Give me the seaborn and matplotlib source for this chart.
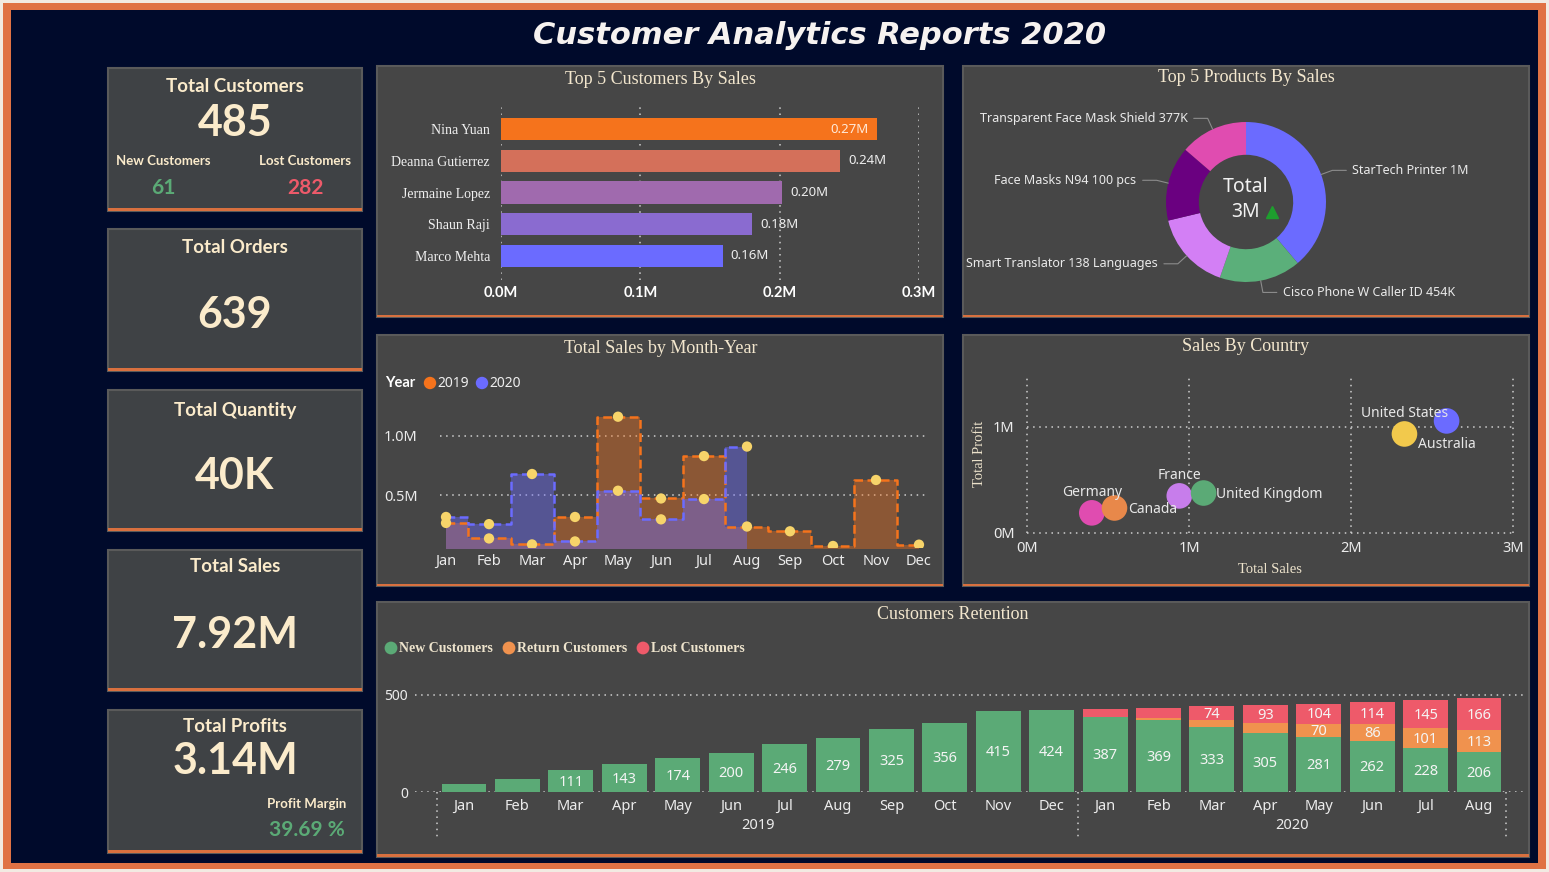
import numpy as np
import pandas as pd
import matplotlib
matplotlib.use("Agg")
import matplotlib.pyplot as plt
import matplotlib.transforms as mtransforms
from matplotlib.patches import Rectangle
from matplotlib.ticker import FuncFormatter
import seaborn as sns

# ---------------- data ----------------
kpi_titles = ["Total Customers", "Total Orders", "Total Quantity", "Total Sales", "Total Profits"]
kpi_values = ["485", "639", "40K", "7.92M", "3.14M"]
kpi_new_customers = "61"
kpi_lost_customers = "282"
kpi_profit_margin = "39.69 %"

top_customers = ["Nina Yuan", "Deanna Gutierrez", "Jermaine Lopez", "Shaun Raji", "Marco Mehta"]
top_customer_sales = [270000, 243000, 202000, 180000, 159000]
top_customer_labels = ["0.27M", "0.24M", "0.20M", "0.18M", "0.16M"]

products = ["StarTech Printer", "Cisco Phone W Caller ID", "Smart Translator 138 Languages",
            "Face Masks N94 100 pcs", "Transparent Face Mask Shield"]
product_sales = [1070000, 454000, 440000, 415000, 377000]
product_labels = ["StarTech Printer 1M", "Cisco Phone W Caller ID 454K", "Smart Translator 138 Languages",
                  "Face Masks N94 100 pcs", "Transparent Face Mask Shield 377K"]
product_total_label = "3M"

months = ["Jan", "Feb", "Mar", "Apr", "May", "Jun", "Jul", "Aug", "Sep", "Oct", "Nov", "Dec"]
sales_2019 = [270000, 140000, 90000, 320000, 1160000, 475000, 830000, 240000, 200000, 77000, 630000, 88000]
sales_2020 = [320000, 260000, 680000, 115000, 540000, 300000, 470000, 910000]

countries = ["Germany", "Canada", "France", "United Kingdom", "United States", "Australia"]
country_sales = [400000, 540000, 940000, 1090000, 2330000, 2590000]
country_profit = [190000, 236000, 350000, 377000, 934000, 1057000]

ret_months = months + months[:8]
ret_years = ["2019"] * 12 + ["2020"] * 8
ret_new = [41, 67, 111, 143, 174, 200, 246, 279, 325, 356, 415, 424, 387, 369, 333, 305, 281, 262, 228, 206]
ret_return = [0] * 12 + [0, 12, 36, 48, 70, 86, 101, 113]
ret_lost = [0] * 12 + [41, 52, 74, 93, 104, 114, 145, 166]

# ---------------- style ----------------
NAVY = "#000A2B"
PANEL = "#464646"
CARD = "#3F4245"
ORANGE_LINE = "#D8703F"
CREAM = "#FBEBCB"
TITLE_C = "#F3E7CE"
TICK_C = "#ECECEC"
SERIF = ["Liberation Serif", "DejaVu Serif"]
SANS = ["Noto Sans", "DejaVu Sans"]
BOLD = ["Lato", "DejaVu Sans"]

sns.set_theme(style="white")
plt.rcParams["font.family"] = SANS
plt.rcParams["text.color"] = TICK_C
plt.rcParams["axes.labelcolor"] = TICK_C
plt.rcParams["xtick.color"] = TICK_C
plt.rcParams["ytick.color"] = TICK_C

W, H = 1549, 872
fig = plt.figure(figsize=(W / 100, H / 100), dpi=100)
fig.patch.set_facecolor(NAVY)


def axpx(x0, y0, x1, y1, z=1):
    a = fig.add_axes([x0 / W, 1 - y1 / H, (x1 - x0) / W, (y1 - y0) / H])
    a.set_facecolor("none")
    a.set_zorder(z)
    return a


def clean(a):
    for s in a.spines.values():
        s.set_visible(False)


# background layer (pixel coordinates)
bg = axpx(0, 0, W, H, z=-5)
bg.set_xlim(0, W)
bg.set_ylim(H, 0)
bg.axis("off")
bg.add_patch(Rectangle((0, 0), W, H, fc="#F2EAE2", ec="none"))
bg.add_patch(Rectangle((3, 3), W - 6, H - 6, fc="#E07244", ec="none"))
bg.add_patch(Rectangle((11, 10), 1538 - 11, 863 - 10, fc=NAVY, ec="none"))


def panel(x0, y0, x1, y1, fc=PANEL, line=3):
    bg.add_patch(Rectangle((x0, y0), x1 - x0, y1 - y0, fc=fc, ec="#5A5A5A", lw=1.5))
    bg.add_patch(Rectangle((x0, y1 - line), x1 - x0, line, fc=ORANGE_LINE, ec="none"))


card_box = [(68, 211), (229, 371), (390, 531), (550, 691), (710, 853)]
for (y0, y1) in card_box:
    panel(108, y0, 362, y1, fc=CARD, line=3)
panel(377, 66, 943, 317, line=2)
panel(963, 66, 1529, 317, line=2)
panel(377, 335, 943, 586, line=2)
panel(963, 335, 1529, 586, line=2)
panel(377, 602, 1529, 857, line=3)

# overlay layer for text
ov = axpx(0, 0, W, H, z=20)
ov.set_xlim(0, W)
ov.set_ylim(H, 0)
ov.axis("off")

ov.text(820, 35, "Customer Analytics Reports 2020", ha="center", va="center", fontsize=22,
        fontweight="bold", fontstyle="italic", color="#F6F2F0", family=["DejaVu Sans"])

# KPI cards
title_y = [86, 247, 410, 566, 726]
value_y = [123, 315, 476, 635, 761]
for t, v, ty, vy in zip(kpi_titles, kpi_values, title_y, value_y):
    ov.text(235, ty, t, ha="center", va="center", fontsize=13.5, fontweight="bold", color=CREAM, family=BOLD)
    ov.text(235, vy, v, ha="center", va="center", fontsize=31, fontweight="bold", color=CREAM, family=BOLD)
ov.text(163, 161, "New Customers", ha="center", va="center", fontsize=9.5, fontweight="bold", color=CREAM, family=BOLD)
ov.text(305, 161, "Lost Customers", ha="center", va="center", fontsize=9.5, fontweight="bold", color=CREAM, family=BOLD)
ov.text(163, 188, kpi_new_customers, ha="center", va="center", fontsize=15, fontweight="bold", color="#5BAA76", family=BOLD)
ov.text(306, 188, kpi_lost_customers, ha="center", va="center", fontsize=15, fontweight="bold", color="#EE5A6A", family=BOLD)
ov.text(307, 804, "Profit Margin", ha="center", va="center", fontsize=9.5, fontweight="bold", color=CREAM, family=BOLD)
ov.text(307, 830, kpi_profit_margin, ha="center", va="center", fontsize=15, fontweight="bold", color="#5BAA76", family=BOLD)

# panel titles
for (x, y, t) in [(660, 79, "Top 5 Customers By Sales"), (1246, 78, "Top 5 Products By Sales"),
                  (661, 348, "Total Sales by Month-Year"), (1246, 346, "Sales By Country"),
                  (953, 614, "Customers Retention")]:
    ov.text(x, y, t, ha="center", va="center", fontsize=13, color=TITLE_C, family=SERIF)

mfmt1 = FuncFormatter(lambda v, p: f"{v / 1e6:.1f}M")
mfmt0 = FuncFormatter(lambda v, p: f"{v / 1e6:.0f}M")

# ---------------- Top 5 customers ----------------
cust_colors = ["#F5731C", "#D4705A", "#A06AAE", "#8A6BD0", "#6B6BFF"]
ax1 = axpx(501, 105, 919, 280)
df1 = pd.DataFrame({"name": top_customers, "sales": top_customer_sales})
sns.barplot(data=df1, x="sales", y="name", hue="name", palette=cust_colors, orient="h", width=0.7,
            saturation=1, legend=False, errorbar=None, linewidth=0, edgecolor="none", ax=ax1)
ax1.set_xlim(0, 300000)
ax1.set_ylim(4.756, -0.756)
ax1.set_xticks([0, 100000, 200000, 300000])
ax1.xaxis.set_major_formatter(mfmt1)
ax1.grid(axis="x", ls=(0, (1, 3)), color="#CFCFCF", lw=1.1)
ax1.grid(axis="y", visible=False)
ax1.set_axisbelow(True)
clean(ax1)
ax1.set_xlabel("")
ax1.set_ylabel("")
ax1.tick_params(axis="x", length=0, pad=4, labelsize=10.5)
ax1.tick_params(axis="y", length=0, pad=8, labelsize=10)
for lab in ax1.get_xticklabels():
    lab.set_fontweight("bold")
    lab.set_family(BOLD)
    lab.set_color("#FFFFFF")
for lab in ax1.get_yticklabels():
    lab.set_family(SERIF)
    lab.set_color("#F0F0F0")
for i, (v, lbl) in enumerate(zip(top_customer_sales, top_customer_labels)):
    if v > 250000:
        ax1.annotate(lbl, xy=(v, i), xytext=(-6, 0), textcoords="offset points", ha="right", va="center",
                     fontsize=9.5, color="#FFE9D8")
    else:
        ax1.annotate(lbl, xy=(v, i), xytext=(6, 0), textcoords="offset points", ha="left", va="center",
                     fontsize=9.5, color="#EEEEEE")

# ---------------- Top 5 products donut ----------------
prod_colors = ["#6B6BFF", "#5BAF7A", "#D37FF5", "#6A0080", "#E04CB0"]
ax2 = axpx(1156, 112, 1336, 292)
ax2.pie(product_sales, colors=prod_colors, startangle=90, counterclock=False,
        wedgeprops=dict(width=0.41, edgecolor="none"))
ax2.set_xlim(-1.125, 1.125)
ax2.set_ylim(-1.125, 1.125)
ax2.set_aspect("equal")
tot = float(np.sum(product_sales))
cum = 0.0
for v, lbl in zip(product_sales, product_labels):
    mid = 90 - (cum + v / 2) / tot * 360
    cum += v
    r = np.deg2rad(mid)
    cx, cy = np.cos(r), np.sin(r)
    side = 1 if cx >= 0 else -1
    tx = 1.15 * cx + side * 0.25
    ty = 1.15 * cy
    ax2.annotate(lbl, xy=(cx * 1.0, cy * 1.0), xytext=(tx, ty), ha="left" if side > 0 else "right",
                 va="center", fontsize=9, color="#EAEAEA", annotation_clip=False,
                 arrowprops=dict(arrowstyle="-", color="#8C8C8C", lw=0.8, shrinkA=2, shrinkB=0,
                                 connectionstyle=f"angle,angleA=0,angleB={mid},rad=0"))
ax2.text(0, 0.19, "Total", ha="center", va="center", fontsize=14, color="#F2F2F2")
ax2.text(0, -0.13, product_total_label, ha="center", va="center", fontsize=14, color="#F2F2F2")
ax2.plot([0.33], [-0.12], marker="^", color="#1E9E2E", ms=9, ls="none")

# ---------------- Total Sales by Month-Year ----------------
C19, C20 = "#F5731C", "#6B6BFF"
ax3 = axpx(440, 400, 925, 548)
x19 = np.arange(len(sales_2019))
x20 = np.arange(len(sales_2020))
ax3.fill_between(x19, 0, sales_2019, step="mid", color=C19, alpha=0.40, lw=0)
ax3.fill_between(x20, 0, sales_2020, step="mid", color=C20, alpha=0.42, lw=0)
sns.lineplot(x=x19, y=sales_2019, ax=ax3, color=C19, lw=1.8, linestyle=(0, (3.5, 1.8)),
             drawstyle="steps-mid")
sns.lineplot(x=x20, y=sales_2020, ax=ax3, color=C20, lw=1.8, linestyle=(0, (3.5, 1.8)),
             drawstyle="steps-mid")
sns.scatterplot(x=x19, y=sales_2019, ax=ax3, color="#F7D46A", s=55, edgecolor="none", zorder=5)
sns.scatterplot(x=x20, y=sales_2020, ax=ax3, color="#F7D46A", s=55, edgecolor="none", zorder=5)
ax3.set_xlim(-0.14, 11.14)
ax3.set_ylim(60000, 1300000)
ax3.set_xticks(x19)
ax3.set_xticklabels(months)
ax3.set_yticks([500000, 1000000])
ax3.yaxis.set_major_formatter(mfmt1)
ax3.grid(axis="y", ls=(0, (1, 3)), color="#CFCFCF", lw=1.1)
ax3.grid(axis="x", visible=False)
ax3.set_axisbelow(True)
clean(ax3)
ax3.tick_params(axis="x", length=0, pad=4, labelsize=10.5)
ax3.tick_params(axis="y", length=0, pad=16, labelsize=10.5)
ov.text(385, 383, "Year", ha="left", va="center", fontsize=10.5, fontweight="bold", color="#FFFFFF", family=BOLD)
ov.scatter([430], [383], s=80, color=C19, edgecolor="none")
ov.text(437, 383, "2019", ha="left", va="center", fontsize=10, color="#EEEEEE")
ov.scatter([482], [383], s=80, color=C20, edgecolor="none")
ov.text(489, 383, "2020", ha="left", va="center", fontsize=10, color="#EEEEEE")

# ---------------- Sales by Country ----------------
country_colors = ["#E04CB0", "#E8884A", "#C77DEB", "#5BAA76", "#F2C94C", "#6B6BFF"]
ax4 = axpx(1027, 375, 1513, 533)
df4 = pd.DataFrame({"country": countries, "sales": country_sales, "profit": country_profit})
sns.scatterplot(data=df4, x="sales", y="profit", hue="country", palette=country_colors, s=340,
                edgecolor="none", legend=False, ax=ax4, clip_on=False, zorder=4)
ax4.set_xlim(0, 3000000)
ax4.set_ylim(0, 1490000)
ax4.set_xticks([0, 1000000, 2000000, 3000000])
ax4.set_yticks([0, 1000000])
ax4.xaxis.set_major_formatter(mfmt0)
ax4.yaxis.set_major_formatter(mfmt0)
ax4.grid(True, ls=(0, (1, 3)), color="#CFCFCF", lw=1.1)
for gl in ax4.get_xgridlines() + ax4.get_ygridlines():
    gl.set_clip_on(False)
ax4.set_axisbelow(True)
clean(ax4)
ax4.tick_params(axis="x", length=0, pad=6, labelsize=10.5)
ax4.tick_params(axis="y", length=0, pad=9, labelsize=10.5)
ax4.set_xlabel("Total Sales", family=SERIF, fontsize=10.5, color="#EDE3CC", labelpad=5)
ax4.set_ylabel("Total Profit", family=SERIF, fontsize=10.5, color="#EDE3CC", labelpad=5)
label_place = {"Germany": (0, 15, "center"), "Canada": (10, -1, "left"), "France": (0, 15, "center"),
               "United Kingdom": (9, -1, "left"), "United States": (0, 15, "center"),
               "Australia": (0, -17, "center")}
for c, sx, py in zip(countries, country_sales, country_profit):
    dx, dy, ha = label_place[c]
    ax4.annotate(c, xy=(sx, py), xytext=(dx, dy), textcoords="offset points", ha=ha, va="center",
                 fontsize=10, color="#E8E8E8", annotation_clip=False, zorder=8)

# ---------------- Customers Retention ----------------
G, O, R = "#5BAA76", "#F0924E", "#EE5A6A"
ax5 = axpx(415, 680, 1525, 792)
keys = [f"{m} {y}" for m, y in zip(ret_months, ret_years)]
new_a = np.array(ret_new)
ret_a = np.array(ret_return)
lost_a = np.array(ret_lost)
df5 = pd.DataFrame({"key": keys, "total": new_a + ret_a + lost_a, "new_ret": new_a + ret_a, "new": new_a})
for col, c in [("total", R), ("new_ret", O), ("new", G)]:
    sns.barplot(data=df5, x="key", y=col, color=c, width=0.84, saturation=1, errorbar=None,
                linewidth=0, edgecolor="none", ax=ax5)
ax5.set_xlim(-0.917, 19.86)
ax5.set_ylim(0, 577)
ax5.set_xticks(range(len(keys)))
ax5.set_xticklabels(ret_months)
ax5.set_yticks([0, 500])
ax5.grid(axis="y", ls=(0, (1, 3)), color="#CFCFCF", lw=1.1)
ax5.grid(axis="x", visible=False)
ax5.set_axisbelow(True)
clean(ax5)
ax5.set_xlabel("")
ax5.set_ylabel("")
ax5.tick_params(axis="x", length=0, pad=5, labelsize=10.5)
ax5.tick_params(axis="y", length=0, pad=5, labelsize=10)
th = 68
for i in range(len(keys)):
    segs = [(0, new_a[i]), (new_a[i], ret_a[i]), (new_a[i] + ret_a[i], lost_a[i])]
    for b, h in segs:
        if h >= th:
            ax5.text(i, b + h / 2 - 6, str(h), ha="center", va="center", fontsize=10.5, color="#F4F4F4")
trans5 = mtransforms.blended_transform_factory(ax5.transData, ax5.transAxes)
years_u = ["2019", "2020"]
for yv in years_u:
    idx = [i for i, y in enumerate(ret_years) if y == yv]
    ax5.text((idx[0] + idx[-1]) / 2, -0.30, yv, transform=trans5, ha="center", va="center",
             fontsize=10.5, color=TICK_C)
seps = [-0.5] + [i + 0.5 for i in range(len(ret_years) - 1) if ret_years[i] != ret_years[i + 1]] + [len(keys) - 0.5]
for s in seps:
    ax5.plot([s, s], [0, -0.41], transform=trans5, clip_on=False, color="#CFCFCF", lw=1.1, ls=(0, (1, 3)))

leg = [(391, "New Customers", G), (509, "Return Customers", O), (643, "Lost Customers", R)]
for x, t, c in leg:
    ov.scatter([x], [648], s=85, color=c, edgecolor="none")
    ov.text(x + 8, 648, t, ha="left", va="center", fontsize=10, fontweight="bold", color="#EDE3CC", family=SERIF)

fig.savefig("out.png", dpi=100, facecolor=NAVY)
